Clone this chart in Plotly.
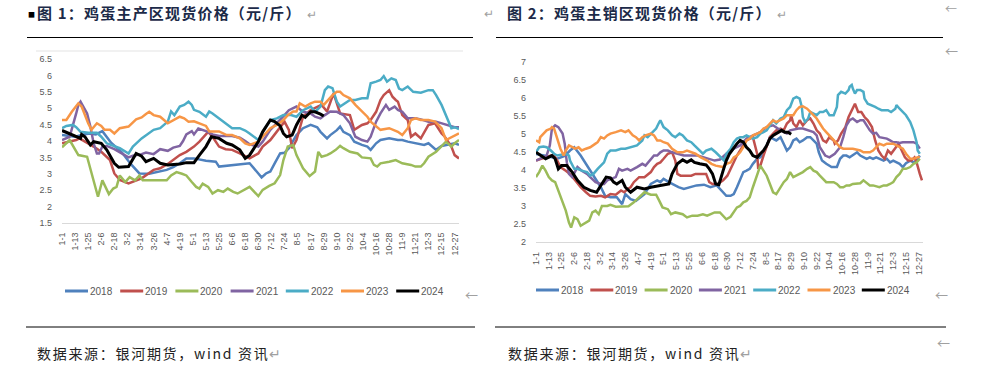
import plotly.graph_objects as go

W, H = 994, 384

# ---------------- data ----------------
YEARS = ["2018", "2019", "2020", "2021", "2022", "2023", "2024"]
COLORS = ["#4F81BD", "#C0504D", "#9BBB59", "#8064A2", "#4BACC6", "#F79646", "#000000"]

X_LABELS = ["1-1", "1-13", "1-25", "2-6", "2-18", "3-2", "3-14", "3-26", "4-7", "4-19",
            "5-1", "5-13", "5-25", "6-6", "6-18", "6-30", "7-12", "7-24", "8-5", "8-17",
            "8-29", "9-10", "9-22", "10-4", "10-16", "10-28", "11-9", "11-21", "12-3",
            "12-15", "12-27"]
X_TICK_DAYS = [0, 12, 24, 36, 48, 60, 72, 84, 96, 108, 120, 132, 144, 156, 168, 180,
               192, 204, 216, 228, 240, 252, 264, 276, 288, 300, 312, 324, 336, 348, 360]

LEFT_Y_TICKS = [1.5, 2, 2.5, 3, 3.5, 4, 4.5, 5, 5.5, 6, 6.5]
LEFT_Y_TEXT = ["1.5", "2", "2.5", "3", "3.5", "4", "4.5", "5", "5.5", "6", "6.5"]
RIGHT_Y_TICKS = [2, 2.5, 3, 3.5, 4, 4.5, 5, 5.5, 6, 6.5, 7]
RIGHT_Y_TEXT = ["2", "2.5", "3", "3.5", "4", "4.5", "5", "5.5", "6", "6.5", "7"]

# 图1 主产区 (day of year, price)
L2018 = [(0,4.18),(12,4.13),(20,4.2),(25,4.23),(31,4.2),(37,4.3),(45,3.95),(55,3.65),(63,3.3),(71,3.01),
         (80,3.0),(88,3.05),(96,3.12),(102,3.2),(108,3.32),(114,3.47),(121,3.47),(132,3.4),(141,3.37),(144,3.22),
         (157,3.27),(169,3.32),(172,3.32),(180,3.01),(183,2.89),(187,3.01),(191,3.07),(195,3.32),(200,3.62),(204,3.64),
         (208,3.78),(215,4.18),(221,4.39),(228,4.49),(234,4.42),(237,4.28),(243,4.08),(246,4.18),(252,4.33),(255,4.44),
         (258,4.28),(264,4.18),(268,3.98),(275,3.88),(280,3.83),(283,3.73),(288,3.93),(292,4.03),(300,4.08),(308,4.03),
         (312,4.03),(317,3.98),(324,3.93),(332,3.88),(336,3.93),(343,3.73),(348,3.85),(352,3.88),(360,3.93),(364,3.88)]
L2019 = [(0,3.93),(13,4.03),(16,4.08),(24,3.93),(29,3.83),(36,3.67),(44,3.42),(48,3.01),(53,2.81),(61,2.71),
         (65,2.76),(73,2.86),(84,3.12),(90,3.17),(97,3.3),(108,3.57),(114,3.67),(121,3.83),(126,3.98),(132,4.23),
         (134,4.28),(138,4.13),(144,3.83),(150,3.75),(156,3.73),(163,3.62),(168,3.55),(172,3.47),(180,3.62),(184,3.83),
         (191,4.03),(200,4.44),(204,4.59),(208,4.34),(211,3.78),(215,4.03),(221,4.74),(228,4.94),(234,5.05),(238,5.1),
         (243,4.9),(246,5.2),(249,5.45),(252,5.15),(255,4.84),(264,4.79),(268,4.34),(275,4.49),(280,4.54),(283,4.64),
         (288,4.89),(292,5.25),(295,5.4),(300,5.55),(303,5.35),(306,5.25),(308,5.2),(312,4.79),(317,4.64),(320,4.13),
         (324,4.23),(329,4.08),(336,4.49),(342,4.54),(348,4.23),(351,4.13),(357,3.83),(360,3.57),(364,3.47)]
L2020 = [(0,3.81),(7,4.03),(15,3.57),(23,3.52),(33,2.3),(37,2.8),(43,2.38),(47,2.55),(50,2.6),(53,2.95),
         (58,2.75),(62,2.9),(67,2.8),(71,2.95),(74,2.8),(80,2.8),(96,2.8),(100,2.95),(105,3.05),(110,3.0),
         (114,2.95),(119,2.75),(123,2.6),(126,2.55),(129,2.7),(134,2.6),(138,2.4),(143,2.5),(148,2.45),(152,2.55),
         (157,2.45),(161,2.4),(166,2.5),(172,2.6),(180,2.32),(184,2.51),(190,2.63),(195,2.71),(200,2.96),(203,3.42),
         (207,3.83),(212,3.88),(215,3.57),(221,3.17),(227,2.93),(232,3.07),(235,3.67),(238,3.52),(243,3.57),(246,3.62),
         (251,3.73),(255,3.85),(258,3.78),(264,3.67),(271,3.62),(275,3.5),(283,3.47),(286,3.27),(289,3.22),(292,3.32),
         (300,3.37),(306,3.42),(312,3.32),(320,3.27),(324,3.22),(329,3.22),(332,3.32),(336,3.52),(343,3.67),(348,3.83),
         (352,3.98),(357,3.83),(360,3.93),(364,4.03)]
L2021 = [(0,4.03),(7,4.13),(13,4.84),(15,5.1),(17,5.2),(20,5.0),(23,4.84),(26,4.44),(29,3.93),(32,3.62),
         (34,3.62),(37,3.83),(41,3.85),(48,3.75),(56,3.6),(61,3.5),(65,3.55),(73,3.6),(77,3.65),(84,3.6),
         (90,3.75),(97,3.7),(102,3.8),(108,3.85),(111,4.0),(114,4.2),(119,4.3),(121,4.2),(125,4.38),(132,4.3),
         (138,4.2),(144,4.15),(156,4.15),(163,4.1),(168,4.0),(172,3.9),(180,3.83),(184,3.98),(191,4.34),(200,4.64),
         (204,4.79),(208,4.94),(215,5.05),(221,4.89),(228,4.84),(232,4.74),(237,4.69),(241,4.79),(246,4.9),(252,4.89),
         (258,4.79),(264,4.54),(269,4.13),(275,4.03),(280,3.98),(283,4.13),(288,4.59),(292,4.84),(297,5.1),(300,4.95),
         (305,5.05),(308,4.95),(312,4.89),(317,4.69),(324,4.69),(329,4.66),(336,4.59),(343,4.59),(348,4.54),(352,4.49),
         (357,4.46),(360,4.42),(364,4.42)]
L2022 = [(0,4.39),(4,4.46),(10,4.49),(13,4.42),(17,4.28),(24,4.25),(32,4.25),(36,4.13),(41,3.93),(48,3.83),
         (53,3.78),(61,3.62),(65,3.83),(73,4.08),(77,4.18),(84,4.34),(90,4.39),(97,4.59),(100,4.9),(103,4.79),
         (108,5.05),(112,5.1),(116,5.2),(119,5.1),(121,4.95),(126,4.89),(132,4.74),(135,4.9),(138,4.84),(144,4.69),
         (151,4.54),(156,4.39),(163,4.39),(168,4.32),(172,4.23),(180,4.03),(184,4.28),(191,4.64),(197,4.69),(203,4.79),
         (210,4.79),(215,4.74),(221,4.94),(228,5.05),(232,4.89),(237,5.05),(241,5.55),(244,5.66),(248,5.61),(252,5.2),
         (255,5.05),(260,5.15),(264,5.25),(269,5.25),(275,5.3),(280,5.3),(283,5.76),(288,5.81),(292,5.86),(295,5.98),
         (298,5.81),(302,5.91),(306,5.86),(309,5.6),(312,5.55),(317,5.66),(322,5.5),(329,5.47),(336,5.55),(340,5.55),
         (343,5.4),(348,5.1),(352,4.79),(357,4.39),(360,4.42),(364,4.36)]
L2023 = [(0,4.64),(4,4.64),(9,4.89),(13,5.05),(15,5.15),(18,5.05),(21,4.79),(24,4.54),(27,4.34),(32,4.54),
         (36,4.46),(39,4.34),(44,4.34),(48,4.23),(53,4.39),(61,4.44),(68,4.66),(73,4.72),(77,4.82),(80,4.89),
         (84,4.79),(90,4.74),(97,4.54),(102,4.64),(108,4.74),(112,4.69),(116,4.59),(121,4.6),(126,4.54),(132,4.46),
         (135,4.29),(144,4.29),(151,4.18),(156,4.18),(163,4.08),(168,3.93),(172,3.88),(180,3.98),(184,4.13),(191,4.39),
         (197,4.49),(203,4.64),(207,4.79),(212,4.9),(215,4.9),(218,5.15),(223,5.05),(228,5.15),(232,5.2),(237,5.2),
         (240,5.1),(244,5.25),(248,5.4),(252,5.5),(255,5.5),(258,5.4),(264,5.3),(269,5.1),(275,4.89),(280,4.74),
         (283,4.59),(288,4.44),(292,4.34),(300,4.39),(308,4.28),(312,4.18),(317,4.39),(320,4.64),(324,4.69),(329,4.64),
         (336,4.64),(342,4.59),(348,4.39),(352,4.03),(355,4.08),(360,4.18),(364,4.23)]
L2024 = [(0,4.32),(13,4.13),(17,4.08),(18,4.2),(21,4.13),(26,3.88),(29,3.98),(36,3.93),(41,3.73),(48,3.32),
         (52,3.2),(61,3.22),(68,3.62),(73,3.54),(77,3.37),(84,3.47),(90,3.32),(97,3.27),(108,3.3),(114,3.34),
         (121,3.34),(126,3.57),(132,3.83),(137,4.13),(144,4.08),(151,3.93),(156,3.88),(163,3.73),(168,3.47),(172,3.57),
         (180,3.98),(184,4.28),(191,4.64),(195,4.59),(200,4.46),(203,4.23),(206,4.13),(211,4.18),(215,4.49),(220,4.79),
         (223,4.72),(228,4.89),(232,4.89),(237,4.82),(240,4.76)]

# 图2 主销区 (day of year, price)
R2018 = [(0,4.45),(10,4.4),(20,4.32),(27,4.4),(32,4.55),(36,4.64),(42,4.41),(48,4.13),(54,3.85),(61,3.53),
         (65,3.29),(70,3.25),(76,3.25),(81,3.06),(84,3.34),(89,3.2),(94,3.15),(102,3.34),(108,3.62),(114,3.72),
         (117,3.67),(120,3.76),(125,3.67),(130,3.58),(134,3.53),(139,3.48),(145,3.53),(151,3.58),(158,3.6),(164,3.53),
         (170,3.58),(176,3.39),(179,3.29),(183,3.29),(186,3.34),(189,3.53),(192,3.72),(195,3.95),(198,3.99),(201,4.04),
         (204,4.18),(208,4.32),(211,4.36),(214,4.46),(220,4.92),(226,4.83),(230,4.92),(233,4.74),(236,4.55),(239,4.64),
         (242,4.83),(245,4.88),(248,4.78),(251,4.83),(255,4.92),(258,4.92),(261,4.83),(264,4.74),(266,4.5),(269,4.27),
         (273,4.18),(278,4.09),(283,4.09),(286,4.32),(289,4.41),(292,4.41),(295,4.36),(298,4.41),(302,4.5),(305,4.41),
         (308,4.36),(311,4.32),(314,4.36),(317,4.32),(320,4.36),(323,4.32),(327,4.27),(330,4.32),(333,4.22),(336,4.27),
         (339,4.22),(342,4.18),(345,4.09),(348,4.2),(352,4.27),(355,4.22),(358,4.27),(361,4.41)]
R2019 = [(0,4.27),(4,4.32),(9,4.36),(14,4.41),(17,4.41),(20,4.27),(23,4.09),(28,3.99),(32,3.9),(37,3.72),
         (42,3.53),(47,3.39),(51,3.29),(56,3.27),(61,3.29),(65,3.25),(70,3.34),(75,3.32),(80,3.44),(83,3.39),
         (86,3.48),(89,3.53),(92,3.67),(97,3.81),(102,3.81),(108,3.95),(111,4.09),(114,4.18),(117,4.22),(120,4.32),
         (124,4.46),(128,4.5),(131,4.27),(133,3.9),(136,3.85),(141,3.85),(146,3.85),(150,3.9),(155,3.9),(160,3.9),
         (163,3.67),(166,3.62),(171,3.62),(176,3.72),(180,3.85),(183,4.04),(186,4.22),(189,4.41),(192,4.55),(198,4.83),
         (204,4.92),(208,4.46),(209,4.04),(211,4.13),(214,4.41),(217,4.69),(220,4.92),(223,5.02),(226,5.11),(230,5.16),
         (233,5.11),(236,5.3),(239,5.39),(240,5.53),(242,5.3),(245,5.2),(248,5.39),(251,5.25),(255,5.39),(258,5.44),
         (261,5.3),(264,5.11),(267,5.02),(270,4.83),(273,4.78),(276,4.92),(280,4.83),(281,4.74),(284,4.83),(287,5.02),
         (291,5.2),(294,5.48),(297,5.67),(300,5.85),(303,5.62),(306,5.62),(309,5.48),(312,5.39),(316,5.2),(319,4.83),
         (322,4.55),(325,4.41),(328,4.32),(331,4.55),(334,4.46),(338,4.64),(341,4.74),(344,4.55),(347,4.36),(350,4.27),
         (353,4.27),(356,4.36),(358,4.22),(361,3.9),(363,3.72)]
R2020 = [(0,3.81),(3,3.95),(6,4.13),(9,3.99),(12,3.81),(15,3.72),(18,3.67),(23,3.25),(28,2.88),(31,2.55),
         (33,2.41),(36,2.69),(39,2.64),(42,2.46),(47,2.55),(50,2.6),(53,2.83),(56,2.88),(59,2.78),(62,3.01),
         (67,3.01),(70,3.04),(75,2.99),(81,2.99),(87,3.0),(92,3.11),(97,3.25),(102,3.39),(108,3.32),(113,3.32),
         (116,3.15),(119,2.97),(124,2.92),(127,2.78),(131,2.83),(138,2.78),(142,2.69),(147,2.74),(152,2.74),(157,2.78),
         (161,2.74),(168,2.83),(173,2.83),(176,2.74),(179,2.64),(183,2.71),(186,2.83),(189,2.97),(192,3.01),(195,3.11),
         (198,3.15),(201,3.25),(204,3.53),(208,3.9),(211,4.13),(214,3.99),(217,3.85),(220,3.62),(223,3.39),(226,3.34),
         (230,3.53),(233,3.67),(236,3.76),(239,3.95),(242,3.81),(245,3.85),(248,3.9),(251,3.95),(255,4.04),(258,4.09),
         (261,3.99),(264,3.95),(267,3.85),(270,3.76),(273,3.67),(280,3.67),(283,3.62),(286,3.53),(289,3.53),(292,3.58),
         (295,3.58),(298,3.62),(302,3.62),(305,3.64),(308,3.72),(311,3.64),(314,3.58),(317,3.58),(320,3.55),(323,3.53),
         (327,3.58),(330,3.58),(333,3.62),(336,3.67),(339,3.81),(342,3.9),(345,4.04),(348,4.04),(352,4.09),(355,4.18),
         (358,4.22),(361,4.32)]
R2021 = [(0,4.27),(6,4.36),(10,4.41),(13,4.69),(15,5.16),(18,5.25),(21,5.2),(25,5.02),(27,4.74),(29,4.22),
         (31,3.9),(34,3.81),(39,4.09),(43,3.99),(48,3.9),(51,3.81),(56,3.67),(61,3.62),(64,3.62),(67,3.72),
         (70,3.76),(75,3.81),(78,4.04),(81,3.99),(86,4.04),(89,3.99),(95,4.09),(100,4.18),(103,4.13),(108,4.32),
         (111,4.41),(114,4.41),(117,4.5),(120,4.55),(124,4.55),(128,4.5),(133,4.46),(139,4.41),(146,4.41),(152,4.41),
         (158,4.36),(163,4.32),(168,4.27),(173,4.3),(179,4.46),(186,4.6),(192,4.69),(198,4.88),(204,4.97),(211,5.06),
         (217,5.2),(223,5.25),(230,5.11),(236,5.02),(239,5.11),(242,5.13),(247,5.16),(251,5.16),(256,5.11),(261,5.06),
         (264,4.97),(267,4.64),(272,4.41),(276,4.36),(281,4.46),(286,4.64),(289,4.92),(292,5.25),(295,5.39),(298,5.44),
         (302,5.34),(305,5.39),(308,5.39),(311,5.25),(314,5.11),(317,5.02),(320,5.04),(323,4.92),(327,4.9),(330,4.88),
         (333,4.83),(336,4.78),(339,4.78),(342,4.76),(345,4.78),(352,4.78),(355,4.78),(358,4.74),(361,4.6)]
R2022 = [(0,4.5),(3,4.64),(7,4.66),(10,4.64),(14,4.55),(17,4.46),(20,4.41),(28,4.46),(31,4.41),(32,4.27),
         (36,4.04),(39,4.04),(43,3.99),(48,3.95),(51,3.85),(54,3.9),(58,4.04),(61,4.13),(64,4.22),(67,4.46),
         (70,4.55),(75,4.55),(80,4.6),(84,4.6),(89,4.64),(95,4.69),(100,4.83),(102,4.97),(105,4.92),(108,5.02),
         (111,5.11),(113,5.16),(116,5.34),(117,5.39),(120,5.2),(124,5.11),(128,4.97),(131,4.92),(135,5.02),(138,4.97),
         (142,4.83),(146,4.78),(149,4.69),(152,4.6),(157,4.46),(160,4.55),(165,4.6),(169,4.5),(174,4.36),(177,4.27),
         (179,4.46),(183,4.6),(186,4.78),(189,4.88),(192,4.92),(195,4.92),(198,4.97),(201,4.92),(204,4.88),(208,4.92),
         (211,5.02),(214,5.06),(217,5.11),(220,5.25),(223,5.39),(226,5.3),(230,5.44),(233,5.48),(236,5.67),(239,5.76),
         (242,5.99),(245,6.04),(248,5.99),(250,5.76),(251,5.48),(253,5.34),(256,5.44),(258,5.62),(261,5.58),(264,5.53),
         (267,5.62),(270,5.62),(273,5.67),(276,5.53),(280,5.53),(283,5.76),(284,6.09),(287,6.18),(291,6.13),(294,6.23),
         (295,6.32),(297,6.37),(298,6.27),(300,6.13),(302,6.23),(305,6.23),(308,6.18),(309,5.99),(312,5.85),(316,5.81),
         (319,5.76),(322,5.71),(325,5.67),(331,5.67),(334,5.62),(338,5.71),(339,5.81),(342,5.71),(345,5.62),(348,5.53),
         (352,5.34),(355,5.11),(358,4.78),(359,4.55),(361,4.46)]
R2023 = [(0,4.83),(3,4.78),(4,4.92),(7,5.02),(10,5.11),(14,5.16),(15,5.2),(17,5.16),(20,4.88),(23,4.6),
         (26,4.41),(28,4.55),(31,4.69),(34,4.64),(37,4.6),(40,4.64),(43,4.55),(47,4.6),(51,4.64),(56,4.74),
         (58,4.78),(61,4.92),(64,4.88),(67,4.97),(70,5.02),(75,5.06),(80,5.11),(84,5.06),(87,5.11),(91,4.97),
         (94,4.92),(97,4.83),(100,4.92),(103,4.97),(108,5.02),(111,4.97),(114,4.83),(117,4.83),(120,4.78),(124,4.74),
         (128,4.6),(133,4.5),(138,4.5),(142,4.55),(146,4.5),(150,4.46),(155,4.36),(158,4.32),(161,4.27),(165,4.18),
         (169,4.13),(176,4.09),(179,4.18),(183,4.22),(186,4.36),(189,4.41),(192,4.5),(195,4.64),(198,4.83),(201,4.88),
         (204,4.97),(208,5.02),(211,5.06),(214,5.16),(217,5.2),(220,5.3),(223,5.39),(226,5.34),(230,5.39),(233,5.44),
         (236,5.53),(242,5.53),(245,5.67),(248,5.76),(251,5.78),(255,5.71),(258,5.62),(261,5.53),(264,5.44),(267,5.3),
         (270,5.16),(273,5.06),(276,4.97),(280,4.83),(283,4.74),(286,4.64),(289,4.6),(298,4.6),(305,4.55),(308,4.5),
         (314,4.5),(317,4.55),(320,4.64),(323,4.74),(327,4.69),(330,4.74),(336,4.74),(339,4.69),(342,4.64),(345,4.6),
         (348,4.46),(352,4.32),(355,4.32),(358,4.36),(361,4.38)]
R2024 = [(0,4.5),(4,4.41),(9,4.32),(15,4.41),(18,4.32),(21,4.04),(24,4.13),(29,4.13),(34,3.95),(39,3.72),
         (45,3.53),(51,3.44),(57,3.39),(61,3.58),(66,3.81),(70,3.79),(73,3.67),(76,3.62),(81,3.72),(84,3.53),
         (89,3.39),(95,3.53),(102,3.48),(108,3.53),(114,3.56),(120,3.6),(125,3.62),(128,3.9),(133,4.18),(138,4.29),
         (142,4.22),(146,4.29),(149,4.22),(154,4.18),(160,4.15),(163,4.04),(166,3.9),(169,3.62),(172,3.6),(176,3.99),
         (179,4.27),(182,4.46),(186,4.64),(189,4.74),(192,4.83),(195,4.78),(198,4.64),(201,4.55),(204,4.41),(208,4.36),
         (211,4.46),(214,4.55),(217,4.69),(220,4.88),(223,4.97),(228,5.06),(231,5.11),(234,5.06),(237,5.06),(240,5.0)]

LEFT_SERIES = [L2018, L2019, L2020, L2021, L2022, L2023, L2024]
RIGHT_SERIES = [R2018, R2019, R2020, R2021, R2022, R2023, R2024]

TITLE_1 = "图 1：鸡蛋主产区现货价格（元/斤）"
TITLE_2 = "图 2：鸡蛋主销区现货价格（元/斤）"
SOURCE = "数据来源：银河期货，wind 资讯"

# ---------------- helpers ----------------
def fx(p):
    return p / W

def fy(p):
    return 1 - p / H

TICK_FONT = dict(family="Liberation Sans, Arial, sans-serif", size=9, color="#595959")
CJK = "Noto Sans CJK SC, sans-serif"
GRAY = "#a0a0a0"

fig = go.Figure()

for series_set, xa, ya in ((LEFT_SERIES, "x", "y"), (RIGHT_SERIES, "x2", "y2")):
    for name, color, s in zip(YEARS, COLORS, series_set):
        fig.add_trace(go.Scatter(
            x=[d for d, v in s], y=[v for d, v in s], name=name, mode="lines",
            line=dict(color=color, width=3 if name == "2024" else 2.5),
            xaxis=xa, yaxis=ya, showlegend=False, hoverinfo="skip"))

xcommon = dict(range=[0, 364], tickmode="array", tickvals=X_TICK_DAYS, ticktext=X_LABELS,
               tickangle=-90, tickfont=TICK_FONT, showgrid=False, zeroline=False,
               showline=True, linecolor="#d9d9d9", linewidth=1, ticks="",
               ticklabelstandoff=5, automargin=False, fixedrange=True)
ycommon = dict(tickmode="array", tickfont=TICK_FONT, showgrid=False, zeroline=False,
               showline=False, ticks="", ticklabelstandoff=9, automargin=False, fixedrange=True)

fig.update_layout(
    width=W, height=H, margin=dict(l=0, r=0, t=0, b=0),
    paper_bgcolor="white", plot_bgcolor="white",
    xaxis=dict(domain=[fx(62), fx(459)], anchor="y", **xcommon),
    yaxis=dict(domain=[fy(223), fy(59)], anchor="x", range=[1.5, 6.5],
               tickvals=LEFT_Y_TICKS, ticktext=LEFT_Y_TEXT, **ycommon),
    xaxis2=dict(domain=[fx(536), fx(923)], anchor="y2", **xcommon),
    yaxis2=dict(domain=[fy(242.3), fy(62.3)], anchor="x2", range=[2, 7],
                tickvals=RIGHT_Y_TICKS, ticktext=RIGHT_Y_TEXT, **ycommon),
)

shapes = []
def hline(x0, x1, y, color="#000000", width=1):
    shapes.append(dict(type="line", xref="paper", yref="paper", x0=fx(x0), x1=fx(x1),
                       y0=fy(y), y1=fy(y), line=dict(color=color, width=width)))

# document rules
hline(27, 473, 37.5)
hline(496, 943, 37.5)
hline(26, 475, 327)
hline(495, 946, 327)
# faint chart frame top (left chart)
hline(36, 463, 51, color="#e3e3e3")

annotations = []
def text(x, y, t, size, color, family=CJK, xanchor="left"):
    annotations.append(dict(xref="paper", yref="paper", x=fx(x), y=fy(y), text=t,
                            showarrow=False, xanchor=xanchor, yanchor="middle",
                            borderpad=0,
                            font=dict(family=family, size=size, color=color)))

# manual legends
LEG_FONT = "Liberation Sans, Arial, sans-serif"
for i, (name, color) in enumerate(zip(YEARS, COLORS)):
    for x0, step, y in ((65, 55.2, 291), (536, 54.3, 290)):
        xs = x0 + step * i
        shapes.append(dict(type="line", xref="paper", yref="paper", x0=fx(xs), x1=fx(xs + 23),
                           y0=fy(y), y1=fy(y), line=dict(color=color, width=3)))
        text(xs + 24, y, name, 10, "#595959", family=LEG_FONT)

# titles (paragraph mark kept inside the same text)
TSTYLE = ("<span style='letter-spacing:1.2px'><b>{}</b></span>"
          "<span style='color:#a0a0a0;font-size:12px'>  ↵</span>")
text(27, 14, "■", 7, "#000000")
text(36, 13, TSTYLE.format(TITLE_1), 15, "#1c2a48")
text(483, 13, "↵", 12, GRAY)
text(506, 13, TSTYLE.format(TITLE_2), 15, "#1c2a48")

# source lines
SSTYLE = "<span style='letter-spacing:1.7px'>{}</span><span style='color:#a0a0a0'>↵</span>"
text(36, 353, SSTYLE.format(SOURCE), 14, "#222222")
text(507, 353, SSTYLE.format(SOURCE), 14, "#222222")

# stray paragraph marks
text(944, 8, "←", 12, GRAY)
text(944, 50, "←", 13, GRAY)
text(464, 294, "←", 13, GRAY)
text(934, 294, "←", 13, GRAY)
text(936, 342, "←", 13, GRAY)

fig.update_layout(shapes=shapes, annotations=annotations)
fig.write_html("out.html", config={"displayModeBar": False, "staticPlot": True},
               post_script="document.body.style.margin='0px';document.body.style.overflow='hidden';")
